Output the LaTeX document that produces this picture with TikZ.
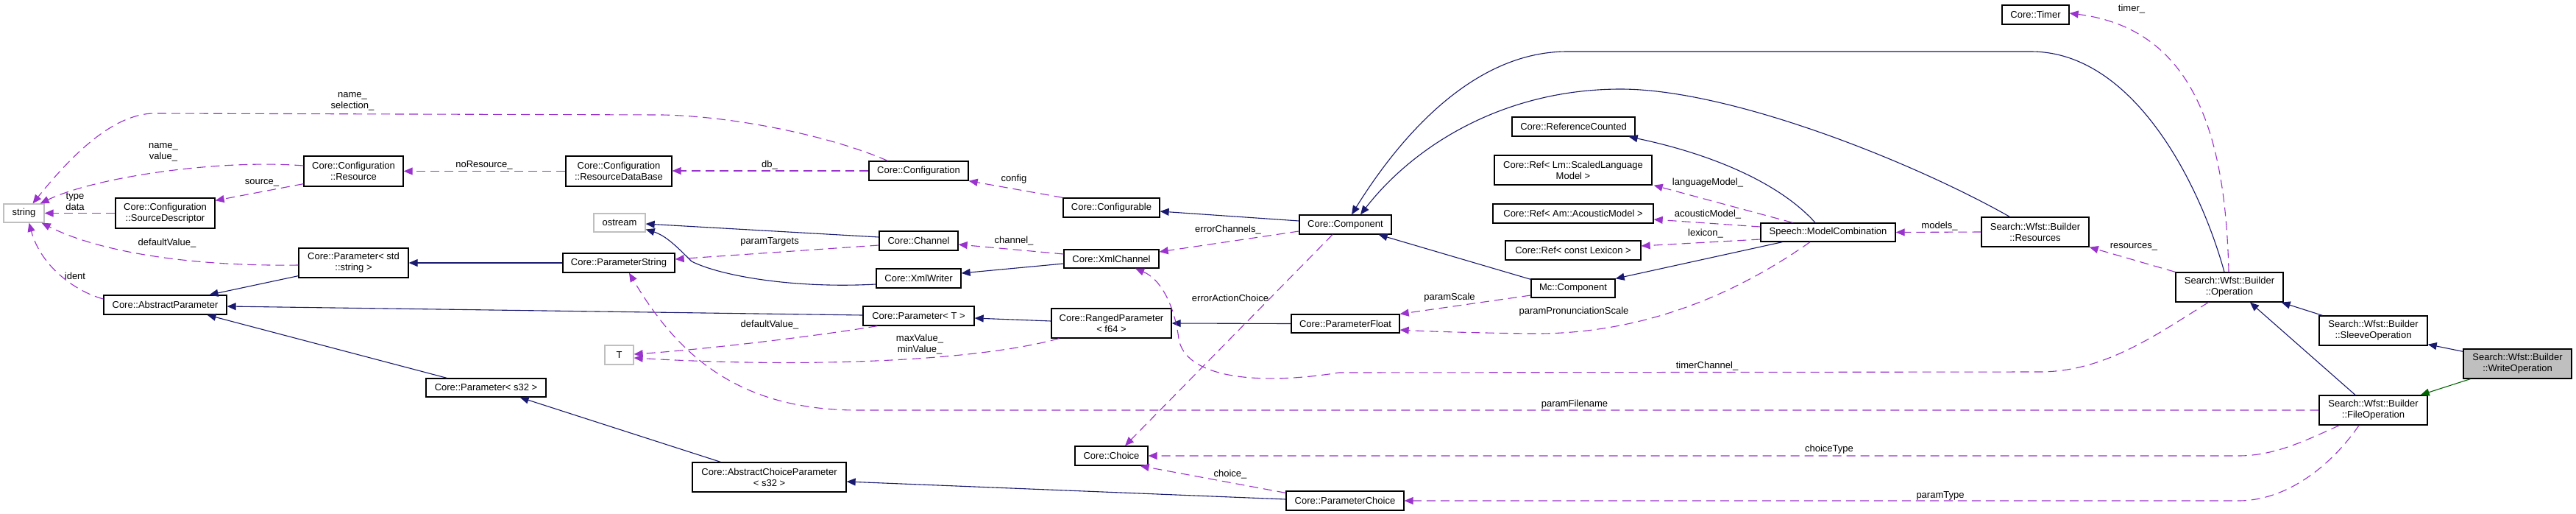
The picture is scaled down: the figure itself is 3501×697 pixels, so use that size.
\documentclass[tikz,border=0pt]{standalone}
\usepackage{fontspec}
\setmainfont{Liberation Sans}
\usetikzlibrary{arrows.meta,calc}
\definecolor{inh}{HTML}{191970}
\definecolor{use}{HTML}{9A32CD}
\definecolor{tpl}{HTML}{006400}
\definecolor{gry}{HTML}{BFBFBF}
\begin{document}
\begin{tikzpicture}[x=1pt,y=-1pt,
  every node/.style={font=\fontsize{13}{15}\selectfont},
  cls/.style={draw=black, line width=1.3pt, fill=white, inner sep=0pt, align=center},
  ext/.style={cls, draw=gry},
  cur/.style={cls, fill=gry},
  lbl/.style={inner sep=0pt, align=center},
  inhe/.style={draw=inh, line width=1.1pt, -{Triangle[length=12pt,width=10pt]}},
  usee/.style={draw=use, line width=1.1pt, dash pattern=on 12pt off 7pt, -{Triangle[length=12pt,width=10pt]}},
  tple/.style={draw=tpl, line width=1.1pt, -{Triangle[length=12pt,width=10pt]}}
]
\fill[white] (0,0) rectangle (3501,697);
\useasboundingbox (0,0) rectangle (3501,697);

% ---- nodes ----
\node[ext, minimum width=55pt, minimum height=25pt] (str) at (32.5,289.5) {string};
\node[cls, minimum width=135pt, minimum height=41pt] (res) at (480.5,232.5) {Core::Configuration\\::Resource};
\node[cls, minimum width=144pt, minimum height=41pt] (rdb) at (841,232.5) {Core::Configuration\\::ResourceDataBase};
\node[cls, minimum width=135pt, minimum height=41pt] (src) at (224.5,289.5) {Core::Configuration\\::SourceDescriptor};
\node[ext, minimum width=70pt, minimum height=25pt] (ost) at (842,302.5) {ostream};
\node[cls, minimum width=149pt, minimum height=40pt] (pstd) at (480.5,357) {Core::Parameter< std\\::string >};
\node[cls, minimum width=152pt, minimum height=26pt] (pstr) at (841,357) {Core::ParameterString};
\node[cls, minimum width=167pt, minimum height=26pt] (absp) at (224.5,414) {Core::AbstractParameter};
\node[ext, minimum width=39pt, minimum height=26pt] (tt) at (841.5,482) {T};
\node[cls, minimum width=163pt, minimum height=25pt] (ps32) at (660.5,526.5) {Core::Parameter< s32 >};
\node[cls, minimum width=135pt, minimum height=26pt] (cfg) at (1248.5,232) {Core::Configuration};
\node[cls, minimum width=131pt, minimum height=26pt] (cfgb) at (1510.5,282) {Core::Configurable};
\node[cls, minimum width=107pt, minimum height=26pt] (ch) at (1248.5,327) {Core::Channel};
\node[cls, minimum width=129pt, minimum height=25pt] (xmlch) at (1510.5,351.5) {Core::XmlChannel};
\node[cls, minimum width=115pt, minimum height=26pt] (xw) at (1248.5,378) {Core::XmlWriter};
\node[cls, minimum width=151pt, minimum height=26pt] (pT) at (1248.5,429) {Core::Parameter< T >};
\node[cls, minimum width=163pt, minimum height=40pt] (rp) at (1510.5,439) {Core::RangedParameter\\< f64 >};
\node[cls, minimum width=99pt, minimum height=26pt] (chc) at (1510.5,619) {Core::Choice};
\node[cls, minimum width=209pt, minimum height=40pt] (acp) at (1045.5,648) {Core::AbstractChoiceParameter\\< s32 >};
\node[cls, minimum width=125pt, minimum height=26pt] (comp) at (1828.5,305) {Core::Component};
\node[cls, minimum width=147pt, minimum height=25pt] (pf) at (1828.5,439.5) {Core::ParameterFloat};
\node[cls, minimum width=160pt, minimum height=26pt] (pch) at (1828,680) {Core::ParameterChoice};
\node[cls, minimum width=167pt, minimum height=26pt] (rc) at (2138.5,172) {Core::ReferenceCounted};
\node[cls, minimum width=214pt, minimum height=40pt] (rlm) at (2138,231) {Core::Ref< Lm::ScaledLanguage\\Model >};
\node[cls, minimum width=218pt, minimum height=26pt] (ram) at (2138,290) {Core::Ref< Am::AcousticModel >};
\node[cls, minimum width=184pt, minimum height=26pt] (rlx) at (2138,340) {Core::Ref< const Lexicon >};
\node[cls, minimum width=183pt, minimum height=25pt] (mc) at (2484.5,315.5) {Speech::ModelCombination};
\node[cls, minimum width=114pt, minimum height=25pt] (mcc) at (2138,391.5) {Mc::Component};
\node[cls, minimum width=146pt, minimum height=40pt] (wres) at (2766,315) {Search::Wfst::Builder\\::Resources};
\node[cls, minimum width=91pt, minimum height=26pt] (tmr) at (2766.5,20) {Core::Timer};
\node[cls, minimum width=146pt, minimum height=40pt] (op) at (3030,390) {Search::Wfst::Builder\\::Operation};
\node[cls, minimum width=147pt, minimum height=40pt] (sl) at (3225.5,449) {Search::Wfst::Builder\\::SleeveOperation};
\node[cur, minimum width=147pt, minimum height=40pt] (wop) at (3421.5,494) {Search::Wfst::Builder\\::WriteOperation};
\node[cls, minimum width=147pt, minimum height=40pt] (fop) at (3225.5,557) {Search::Wfst::Builder\\::FileOperation};

% ---- edges ----
\draw[usee] ($(cfg.north west)+(26,0)$) .. controls (1130,185) and (1000,158) .. (900,156) -- (210,154) .. controls (150,154) and (90,220) .. ($(str.north)+(12,0)$);
\draw[usee] ($(res.west)+(0,-7.5)$) .. controls (300,216) and (130,240) .. ($(str.north east)+(-6,0)$);
\draw[usee] (src.west) -- (str.east);
\draw[usee] ($(res.south west)+(0,-4)$) -- ($(src.north east)+(0,4)$);
\draw[usee] (rdb.west) -- (res.east);
\draw[usee] (cfg.west) -- ($(rdb.east)+(0,-0.5)$);
\draw[usee] (cfgb.north west) -- (cfg.south east);
\draw[inhe] ($(comp.west)+(0,-5)$) -- ($(cfgb.east)+(0,5)$);
\draw[usee] ($(comp.west)+(0,9)$) -- ($(xmlch.east)+(0,-9.5)$);
\draw[usee] ($(xmlch.west)+(0,-6.5)$) -- ($(ch.east)+(0,5)$);
\draw[inhe] ($(xmlch.west)+(0,6.5)$) -- ($(xw.east)+(0,-7)$);
\draw[inhe] ($(ch.west)+(0,-5)$) -- ($(ost.east)+(0,1.5)$);
\draw[inhe] ($(xw.west)+(0,8)$) .. controls (1080,392) and (980,375) .. (940,355) .. controls (920,335) and (905,320) .. ($(ost.east)+(0,9)$);
\draw[usee] ($(ch.west)+(0,6)$) -- ($(pstr.east)+(0,-5)$);
\draw[inhe] (pstr.west) -- (pstd.east);
\draw[usee] ($(pstd.west)+(0,3)$) .. controls (250,362) and (130,340) .. ($(str.south east)+(-4,0)$);
\draw[usee] ($(absp.west)+(0,-8)$) .. controls (100,395) and (55,360) .. ($(str.south)+(7,0)$);
\draw[inhe] ($(pstd.south west)+(0,-3)$) -- ($(absp.north)+(60,0)$);
\draw[inhe] ($(pT.west)+(0,-1)$) -- ($(absp.east)+(0,2)$);
\draw[inhe] ($(ps32.north west)+(29,0)$) -- ($(absp.south)+(57,0)$);
\draw[inhe] ($(acp.north west)+(39,0)$) -- ($(ps32.south east)+(-36,0)$);
\draw[inhe] ($(pch.west)+(0,-2)$) -- ($(acp.east)+(0,6)$);
\draw[usee] ($(pch.north west)+(0,3)$) -- ($(chc.south east)+(-11,0)$);
\draw[usee] ($(pT.south west)+(20,0)$) .. controls (1100,458) and (950,475) .. ($(tt.east)+(0,-1)$);
\draw[usee] ($(rp.south west)+(11,0)$) .. controls (1330,490) and (1100,500) .. ($(tt.east)+(0,4)$);
\draw[inhe] ($(rp.west)+(0,-3)$) -- ($(pT.east)+(0,3)$);
\draw[inhe] (pf.west) -- (rp.east);
\draw[usee] ($(comp.south)+(-17.5,0)$) -- ($(chc.north)+(18.5,0)$);
\draw[usee] ($(op.south west)+(45,0)$) .. controls (2930,455) and (2860,505) .. (2772,505) -- (1820,506) .. controls (1700,525) and (1610,510) .. (1602,460) .. controls (1597,420) and (1580,380) .. ($(xmlch.south)+(32.5,0)$);
\draw[usee] (fop.west) -- (1160,557) .. controls (1000,555) and (920,480) .. ($(pstr.south)+(14,0)$);
\draw[usee] ($(fop.south west)+(28,0)$) .. controls (3130,600) and (3090,619) .. (3042,619) -- (chc.east);
\draw[usee] ($(fop.south)+(-19.5,0)$) .. controls (3170,630) and (3110,680) .. (3042,680) -- (pch.east);
\draw[inhe] ($(mcc.north west)+(0,1)$) -- ($(comp.south east)+(-18,0)$);
\draw[usee] ($(mcc.west)+(0,9.5)$) -- (pf.north east);
\draw[usee] ($(mc.south)+(-24.5,0)$) .. controls (2380,385) and (2250,455) .. (2080,453) .. controls (2000,452) and (1940,450) .. ($(pf.east)+(0,8.5)$);
\draw[inhe] ($(mc.south west)+(30,0)$) -- (mcc.north east);
\draw[inhe] ($(mc.north)+(-17.5,0)$) .. controls (2420,250) and (2330,210) .. ($(rc.south east)+(-9,0)$);
\draw[usee] ($(mc.north west)+(44,0)$) -- ($(rlm.south east)+(2,0)$);
\draw[usee] ($(mc.west)+(0,-7.5)$) -- ($(ram.east)+(0,8)$);
\draw[usee] ($(mc.west)+(0,9.5)$) -- ($(rlx.east)+(0,-6)$);
\draw[usee] (wres.west) -- (mc.east);
\draw[inhe] ($(wres.north west)+(39,0)$) .. controls (2600,220) and (2350,120) .. (2200,121) .. controls (2040,122) and (1920,200) .. ($(comp.north)+(20.5,0)$);
\draw[inhe] ($(op.north)+(-7,0)$) .. controls (2990,250) and (2900,70) .. (2760,70) -- (2130,70) .. controls (2000,70) and (1900,190) .. ($(comp.north)+(8.5,0)$);
\draw[usee] ($(op.north)+(-1,0)$) .. controls (3025,200) and (2990,40) .. ($(tmr.east)+(0,-2)$);
\draw[usee] (op.north west) -- (wres.south east);
\draw[inhe] ($(sl.north west)+(5,0)$) -- ($(op.south east)+(-3,0)$);
\draw[inhe] ($(fop.north)+(-24.5,0)$) -- ($(op.south)+(28,0)$);
\draw[inhe] ($(wop.north west)+(0,4)$) -- ($(sl.south east)+(0,-2)$);
\draw[tple] ($(wop.south west)+(10,0)$) -- ($(fop.north east)+(-10,0)$);

% ---- labels ----
\node[lbl] (lnamesel) at (479,138) {name\_\\selection\_};
\node[lbl] (lnameval) at (222,207) {name\_\\value\_};
\node[lbl] (ltypedata) at (102,274) {type\\data};
\node[lbl] (lsource) at (356,248) {source\_};
\node[lbl] (lnores) at (658,224) {noResource\_};
\node[lbl] (ldb) at (1046,224) {db\_};
\node[lbl] (lconfig) at (1378,243) {config};
\node[lbl] (lerrch) at (1669,312) {errorChannels\_};
\node[lbl] (lchannel) at (1378,327) {channel\_};
\node[lbl] (lptargets) at (1046,328) {paramTargets};
\node[lbl] (ldefval) at (227,330) {defaultValue\_};
\node[lbl] (lident) at (102,375) {ident};
\node[lbl] (lchoice) at (1672,644) {choice\_};
\node[lbl] (ldefvalT) at (1046,441) {defaultValue\_};
\node[lbl] (lmaxmin) at (1250,468) {maxValue\_\\minValue\_};
\node[lbl] (lerract) at (1672,405) {errorActionChoice};
\node[lbl] (ltimerch) at (2320,497) {timerChannel\_};
\node[lbl] (lpfile) at (2140,549) {paramFilename};
\node[lbl] (lchtype) at (2486,610) {choiceType};
\node[lbl] (lptype) at (2637,673) {paramType};
\node[lbl] (lpscale) at (1970,404) {paramScale};
\node[lbl] (lppron) at (2139,423) {paramPronunciationScale};
\node[lbl] (llm) at (2321,248) {languageModel\_};
\node[lbl] (lam) at (2321,291) {acousticModel\_};
\node[lbl] (llex) at (2318,317) {lexicon\_};
\node[lbl] (lmodels) at (2636,307) {models\_};
\node[lbl] (ltimer) at (2897,12) {timer\_};
\node[lbl] (lres) at (2900,335) {resources\_};
\end{tikzpicture}
\end{document}
